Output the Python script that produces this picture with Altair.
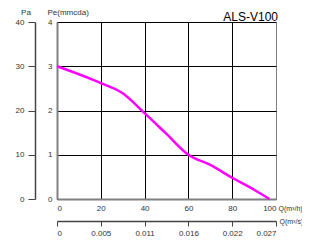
import altair as alt
import pandas as pd

# Curve: flow Q (m³/h) vs static pressure (Pa)
q_m3h = [0, 20, 30, 40, 50, 60, 70, 80, 90, 97]
pa = [30, 26.2, 23.9, 19.4, 14.7, 10, 7.7, 4.8, 2.1, 0]

# Axis ticks / labels
q_ticks = [0, 20, 40, 60, 80, 100]
q_m3s_labels = ["0", "0.005", "0.011", "0.016", "0.022", "0.027"]
pa_ticks = [0, 10, 20, 30, 40]
pe_ticks = [0, 1, 2, 3, 4]

df = pd.DataFrame({"q": q_m3h, "pa": pa})
labels_js = "[" + ",".join(f"'{s}'" for s in q_m3s_labels) + "][round(datum.value/20)]"

FONT = "Liberation Sans"
GREY = "#808080"
DARK = "#444444"

base = alt.Chart(df)

curve = base.mark_line(color="#ff00ff", strokeWidth=2.5, interpolate="monotone").encode(
    x=alt.X(
        "q:Q",
        scale=alt.Scale(domain=[0, 100], nice=False),
        axis=alt.Axis(
            values=q_ticks, format="d", orient="bottom", ticks=False, labelPadding=5,
            domainColor=GREY, domainWidth=2,
            grid=True, gridColor={"condition": {"test": "datum.value == 100", "value": GREY}, "value": "#000000"},
            gridWidth=1,
            title="Q(m³/h)", titleAngle=0, titleX=221, titleY=9, titleAlign="left",
            titleBaseline="middle", titleFontSize=7,
        ),
    ),
    y=alt.Y(
        "pa:Q",
        scale=alt.Scale(domain=[0, 40], nice=False),
        axis=alt.Axis(
            values=pa_ticks, format="d", orient="left", offset=22, grid=False,
            tickSize=7, labelPadding=4, domainColor=DARK, tickColor=DARK, domainWidth=1.5,
            title="Pa", titleAngle=0, titleX=-9.5, titleY=-10, titleAlign="center",
            titleBaseline="middle",
        ),
    ),
)

pe_layer = base.transform_calculate(pe="datum.pa / 10").mark_line(opacity=0).encode(
    x=alt.X(
        "q:Q",
        scale=alt.Scale(domain=[0, 100], nice=False),
        axis=alt.Axis(
            values=q_ticks, labelExpr=labels_js, orient="bottom", offset=22, grid=False,
            tickSize=5, labelPadding=3, domainColor=DARK, tickColor=DARK, domainWidth=1.5,
            title="Q(m³/s)", titleAngle=0, titleX=222, titleY=0, titleAlign="left",
            titleBaseline="middle", titleFontSize=7,
        ),
    ),
    y=alt.Y(
        "pe:Q",
        scale=alt.Scale(domain=[0, 4], nice=False),
        axis=alt.Axis(
            values=pe_ticks, format="d", orient="left", ticks=False, labelPadding=5,
            domainColor=GREY, domainWidth=2, grid=True, gridColor="#000000", gridWidth=1,
            title="Pe(mmcda)", titleAngle=0, titleX=-10, titleY=-10, titleAlign="left",
            titleBaseline="middle",
        ),
    ),
)

chart = (
    alt.layer(pe_layer, curve)
    .resolve_scale(x="independent", y="independent")
    .properties(
        width=219,
        height=177,
        autosize=alt.AutoSizeParams(type="none"),
        padding={"left": 49, "top": 14, "right": 26, "bottom": 40},
        title=alt.TitleParams(
            "ALS-V100", anchor="end", frame="group", fontSize=12, font=FONT,
            fontWeight="normal", color="#000000", dx=2, dy=16, offset=0,
        ),
    )
    .configure_view(stroke=None)
    .configure_axis(
        labelFont=FONT, labelFontSize=8, labelColor="#333333",
        titleFont=FONT, titleFontSize=8, titleColor="#333333", titleFontWeight="normal",
    )
)

chart.save("out.html", embed_options={"renderer": "svg", "actions": False})
